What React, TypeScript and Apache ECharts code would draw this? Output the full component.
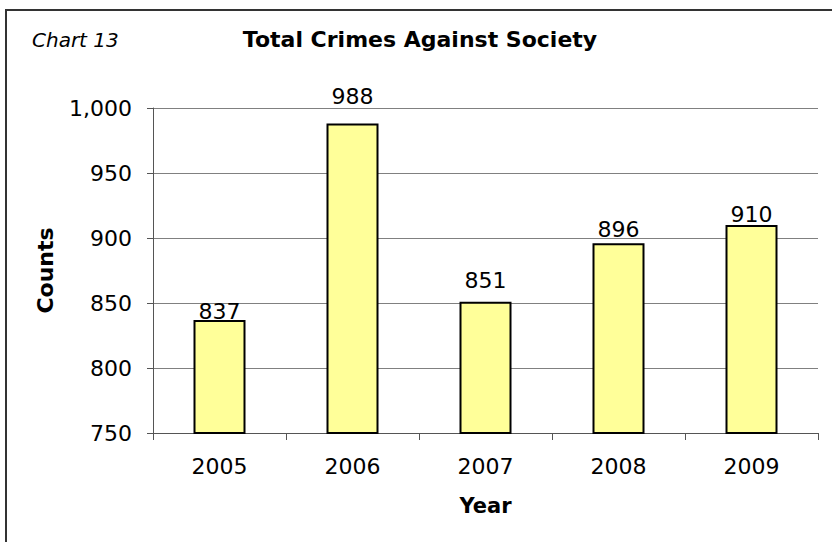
import React, { useEffect, useRef } from "react";
import * as echarts from "echarts";

const years = ["2005", "2006", "2007", "2008", "2009"];
const counts = [837, 988, 851, 896, 910];
const labelGaps = [-3, 16, 10, 3, 0];
const yMin = 750;
const yMax = 1000;
const yStep = 50;

const FONT = "'DejaVu Sans', Verdana, sans-serif";

export default function App() {
  const ref = useRef<HTMLDivElement>(null);
  useEffect(() => {
    if (!ref.current) return;
    const chart = echarts.init(ref.current, null, { renderer: "svg" });
    chart.setOption({
      animation: false,
      backgroundColor: "#ffffff",
      title: {
        text: "Total Crimes Against Society",
        left: 415,
        textAlign: "center",
        top: 23,
        textStyle: { fontFamily: FONT, fontWeight: "bold", fontSize: 22, color: "#000" },
      },
      graphic: [
        {
          type: "rect",
          shape: { x: 6, y: 10, width: 900, height: 700 },
          style: { fill: "none", stroke: "#333", lineWidth: 2 },
          silent: true,
        },
        {
          type: "text",
          x: 32,
          y: 30,
          style: {
            text: "Chart 13",
            fontFamily: FONT,
            fontStyle: "italic",
            fontSize: 20,
            fill: "#000",
          },
        },
      ],
      grid: { left: 153, top: 108, right: 14, bottom: 109, containLabel: false },
      xAxis: {
        type: "category",
        data: years,
        name: "Year",
        nameLocation: "middle",
        nameGap: 62,
        nameTextStyle: { fontFamily: FONT, fontWeight: "bold", fontSize: 21, color: "#000" },
        axisLine: { lineStyle: { color: "#555", width: 1 } },
        axisTick: { show: true, inside: false, length: 7, alignWithLabel: false, lineStyle: { color: "#555" } },
        axisLabel: { fontFamily: FONT, fontSize: 22, color: "#000", margin: 22 },
      },
      yAxis: {
        type: "value",
        min: yMin,
        max: yMax,
        interval: yStep,
        name: "Counts",
        nameLocation: "middle",
        nameGap: 97,
        nameRotate: 90,
        nameTextStyle: { fontFamily: FONT, fontWeight: "bold", fontSize: 22, color: "#000" },
        axisLine: { show: true, lineStyle: { color: "#555", width: 1 } },
        axisTick: { show: true, inside: false, length: 6, lineStyle: { color: "#555" } },
        axisLabel: {
          fontFamily: FONT,
          fontSize: 22,
          color: "#000",
          margin: 21,
          formatter: (v: number) => v.toLocaleString("en-US"),
        },
        splitLine: { show: true, lineStyle: { color: "#808080", width: 1 } },
      },
      series: [
        {
          type: "bar",
          data: counts.map((v, i) => ({ value: v, label: { distance: labelGaps[i] } })),
          barWidth: 52,
          itemStyle: { color: "#FFFF99", borderColor: "#000", borderWidth: 2 },
          label: {
            show: true,
            position: "top",
            fontFamily: FONT,
            fontSize: 22,
            color: "#000",
          },
        },
      ],
    });
    return () => chart.dispose();
  }, []);
  return <div ref={ref} style={{ width: 832, height: 542, position: "absolute", left: 0, top: 0 }} />;
}
